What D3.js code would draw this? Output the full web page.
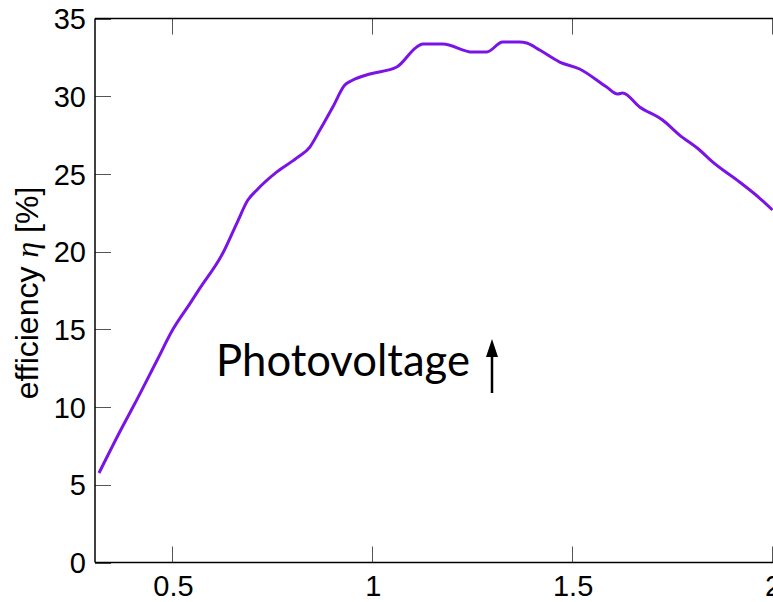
<!DOCTYPE html>
<html>
<head>
<meta charset="utf-8">
<script src="https://cdn.jsdelivr.net/npm/d3@7/dist/d3.min.js"></script>
<style>
  html, body { margin: 0; padding: 0; background: #fff; }
  svg { display: block; }
</style>
</head>
<body>
<svg id="chart" width="773" height="602"></svg>
<script>
// Photovoltage (V) vs. efficiency (%)
const voltage = [0.315, 0.375, 0.40, 0.46, 0.50, 0.5425, 0.5675, 0.625, 0.66, 0.6875, 0.71, 0.76, 0.81, 0.8425,
  0.8675, 0.90, 0.93, 0.95, 0.9925, 1.06, 1.11, 1.125, 1.175, 1.25, 1.285, 1.325, 1.3675, 1.385,
  1.4175, 1.4675, 1.5175, 1.585, 1.6125, 1.625, 1.6675, 1.725, 1.7675, 1.8175, 1.85, 1.9175, 1.9675, 2.0];
const efficiency = [5.76, 8.80, 10.0, 13.0, 15.0, 16.66, 17.65, 19.91, 21.84, 23.32, 23.97, 25.13, 26.03, 26.73,
  27.82, 29.31, 30.72, 31.04, 31.43, 31.88, 33.17, 33.36, 33.36, 32.84, 32.84, 33.49, 33.49, 33.42,
  32.97, 32.20, 31.75, 30.59, 30.14, 30.21, 29.31, 28.47, 27.50, 26.54, 25.77, 24.48, 23.45, 22.68];
const xTicks = [0.5, 1, 1.5, 2];
const yTicks = [0, 5, 10, 15, 20, 25, 30, 35];

(function () {
  const svg = d3.select("#chart");
  const plotL = 95, plotR = 772.5, plotT = 18.5, plotB = 562.5;

  const x = d3.scaleLinear().domain([0.305, 2.0]).range([plotL, plotR]);
  const y = d3.scaleLinear().domain([0, 35]).range([plotB, plotT]);

  const tickLen = 16;
  const font = "'Liberation Sans', Arial, sans-serif";

  // clip the curve to the plotting box
  svg.append("defs").append("clipPath").attr("id", "plotClip")
    .append("rect").attr("x", plotL).attr("y", plotT - 5)
    .attr("width", plotR - plotL + 2).attr("height", plotB - plotT + 10);

  // bottom axis labels
  const xAxisB = d3.axisBottom(x).tickValues(xTicks).tickSize(0).tickPadding(13)
    .tickFormat(d => d3.format("")(d));
  const gB = svg.append("g").attr("transform", `translate(0,${plotB})`).call(xAxisB);
  gB.select(".domain").remove();
  gB.selectAll("text").attr("font-family", font).attr("font-size", 29).attr("fill", "#000");

  // left axis labels
  const yAxisL = d3.axisLeft(y).tickValues(yTicks).tickSize(0).tickPadding(9);
  const gL = svg.append("g").attr("transform", `translate(${plotL},0)`).call(yAxisL);
  gL.select(".domain").remove();
  gL.selectAll("text").attr("font-family", font).attr("font-size", 29).attr("fill", "#000")
    .attr("dy", "0.35em");

  // inward ticks
  const ticks = svg.append("g").attr("stroke", "#555").attr("stroke-width", 1);
  ticks.selectAll("line.yt").data(yTicks).join("line").attr("class", "yt")
    .attr("x1", plotL).attr("x2", plotL + tickLen)
    .attr("y1", d => Math.round(y(d)) + 0.5).attr("y2", d => Math.round(y(d)) + 0.5);
  ticks.selectAll("line.xb").data(xTicks).join("line").attr("class", "xb")
    .attr("x1", d => Math.round(x(d)) - 0.5).attr("x2", d => Math.round(x(d)) - 0.5)
    .attr("y1", plotB).attr("y2", plotB - tickLen);
  ticks.selectAll("line.xt").data(xTicks).join("line").attr("class", "xt")
    .attr("x1", d => Math.round(x(d)) - 0.5).attr("x2", d => Math.round(x(d)) - 0.5)
    .attr("y1", plotT).attr("y2", plotT + tickLen);

  // frame lines
  const frame = svg.append("g").attr("stroke", "#000").attr("stroke-width", 1.5).attr("fill", "none");
  frame.append("line").attr("x1", plotL).attr("x2", plotL).attr("y1", plotT).attr("y2", plotB);
  frame.append("line").attr("x1", plotL).attr("x2", 773).attr("y1", plotB).attr("y2", plotB);
  frame.append("line").attr("x1", plotL).attr("x2", 773).attr("y1", plotT).attr("y2", plotT);

  // efficiency curve
  const line = d3.line().x((d, i) => x(voltage[i])).y(d => y(d)).curve(d3.curveMonotoneX);
  svg.append("path").datum(efficiency)
    .attr("clip-path", "url(#plotClip)")
    .attr("d", line)
    .attr("fill", "none")
    .attr("stroke", "#7a14e6")
    .attr("stroke-width", 3)
    .attr("stroke-linejoin", "round");

  // y axis title
  const yTitle = svg.append("text")
    .attr("transform", "translate(38,293) rotate(-90)")
    .attr("text-anchor", "middle")
    .attr("font-family", font).attr("font-size", 32).attr("fill", "#000");
  yTitle.append("tspan").text("efficiency ");
  yTitle.append("tspan").attr("font-family", "'Liberation Serif', 'Times New Roman', serif")
    .attr("font-style", "italic").text("η");
  yTitle.append("tspan").text(" [%]");

  // annotation
  const note = svg.append("text")
    .attr("x", 216).attr("y", 376)
    .attr("font-family", "Lato, 'Open Sans', sans-serif")
    .attr("font-size", 34).attr("fill", "#000")
    .text("Photovoltage");
  const targetW = 254;
  const w = note.node().getComputedTextLength();
  note.attr("font-size", 34 * targetW / w);

  // upward arrow
  svg.append("line")
    .attr("x1", 492).attr("x2", 492).attr("y1", 393).attr("y2", 356)
    .attr("stroke", "#000").attr("stroke-width", 2.5);
  svg.append("path").attr("d", "M486,357 L492,339 L498,357 Z").attr("fill", "#000");
})();
</script>
</body>
</html>
